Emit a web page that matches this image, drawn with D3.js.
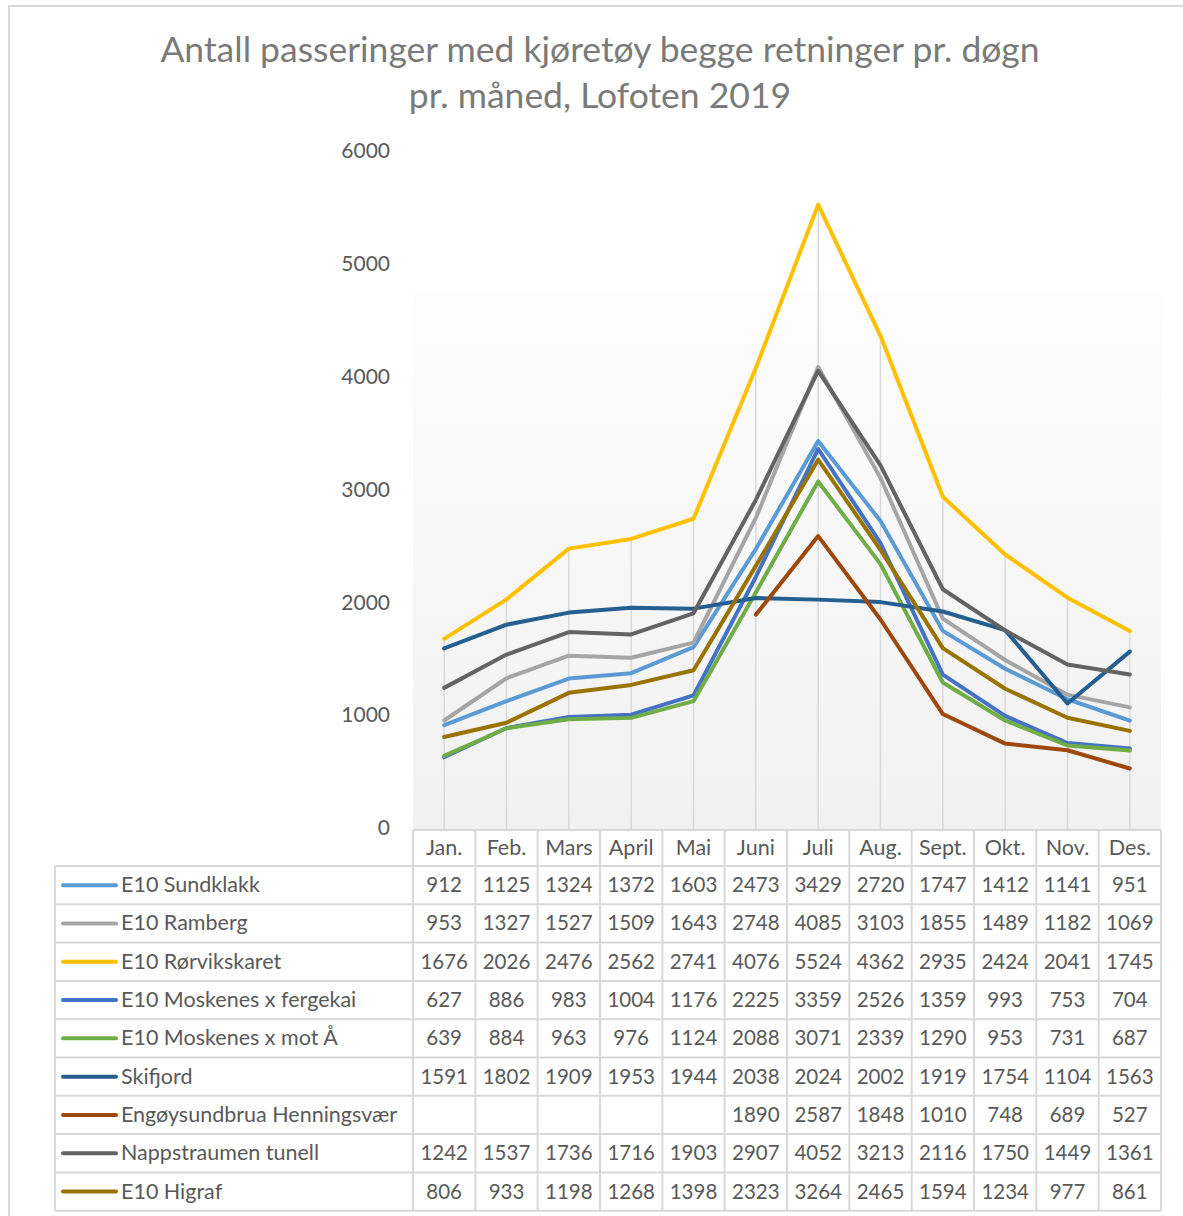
<!DOCTYPE html>
<html>
<head>
<meta charset="utf-8">
<script src="https://cdn.jsdelivr.net/npm/d3@7"></script>
<style>
  body { margin: 0; background: #fff; }
  svg text { font-family: Lato, "Open Sans", sans-serif; }
</style>
</head>
<body>
<div id="chart"></div>
<script>
// Data (pr. døgn, 2019)
const months = ["Jan.", "Feb.", "Mars", "April", "Mai", "Juni", "Juli", "Aug.", "Sept.", "Okt.", "Nov.", "Des."];
const seriesNames = ["E10 Sundklakk", "E10 Ramberg", "E10 Rørvikskaret", "E10 Moskenes x fergekai",
  "E10 Moskenes x mot Å", "Skifjord", "Engøysundbrua Henningsvær", "Nappstraumen tunell", "E10 Higraf"];
const sundklakk   = [912, 1125, 1324, 1372, 1603, 2473, 3429, 2720, 1747, 1412, 1141, 951];
const ramberg     = [953, 1327, 1527, 1509, 1643, 2748, 4085, 3103, 1855, 1489, 1182, 1069];
const rorvikskaret = [1676, 2026, 2476, 2562, 2741, 4076, 5524, 4362, 2935, 2424, 2041, 1745];
const moskenesFerge = [627, 886, 983, 1004, 1176, 2225, 3359, 2526, 1359, 993, 753, 704];
const moskenesMotA = [639, 884, 963, 976, 1124, 2088, 3071, 2339, 1290, 953, 731, 687];
const skifjord    = [1591, 1802, 1909, 1953, 1944, 2038, 2024, 2002, 1919, 1754, 1104, 1563];
const engoysund   = [null, null, null, null, null, 1890, 2587, 1848, 1010, 748, 689, 527];
const nappstraumen = [1242, 1537, 1736, 1716, 1903, 2907, 4052, 3213, 2116, 1750, 1449, 1361];
const higraf      = [806, 933, 1198, 1268, 1398, 2323, 3264, 2465, 1594, 1234, 977, 861];
const yTicks = [0, 1000, 2000, 3000, 4000, 5000, 6000];

const seriesValues = [sundklakk, ramberg, rorvikskaret, moskenesFerge, moskenesMotA,
  skifjord, engoysund, nappstraumen, higraf];
const colors = ["#5b9bd5", "#a5a5a5", "#ffc000", "#4472c4", "#70ad47",
  "#255e91", "#9e480e", "#636363", "#997300"];

const series = seriesNames.map((name, i) => ({name, values: seriesValues[i], color: colors[i]}));

const W = 1183, H = 1216;
const plot = {left: 413, right: 1161, top: 151, bottom: 829};
const table = {left: 55, headerTop: 830, headerH: 36, rowH: 38.3};
const gridColor = "#d9d9d9";
const textColor = "#595959";

const svg = d3.select("#chart").append("svg")
    .attr("width", W)
    .attr("height", H);

// outer chart border (right/bottom edges run off the picture)
svg.append("rect")
    .attr("x", 9).attr("y", 6)
    .attr("width", 1300).attr("height", 1300)
    .attr("fill", "none")
    .attr("stroke", gridColor)
    .attr("stroke-width", 2);

// Title
const title = svg.append("text")
    .attr("text-anchor", "middle")
    .attr("fill", "#7a7a7a")
    .style("font-size", "35.5px");
title.append("tspan").attr("x", 600).attr("y", 62).text("Antall passeringer med kjøretøy begge retninger pr. døgn");
title.append("tspan").attr("x", 600).attr("y", 108).text("pr. måned, Lofoten 2019");

// Scales
const x = d3.scaleBand()
    .domain(months)
    .range([plot.left, plot.right]);
const xc = d => x(d) + x.bandwidth() / 2;

const y = d3.scaleLinear()
    .domain([0, 6000])
    .range([plot.bottom - 1, plot.top]);

// plot area gradient
const defs = svg.append("defs");
const grad = defs.append("linearGradient")
    .attr("id", "plotFill")
    .attr("x1", 0).attr("y1", 0).attr("x2", 0).attr("y2", 1);
grad.append("stop").attr("offset", "0%").attr("stop-color", "#fdfdfd");
grad.append("stop").attr("offset", "100%").attr("stop-color", "#f1f1f1");

svg.append("rect")
    .attr("x", plot.left)
    .attr("y", 293)
    .attr("width", plot.right - plot.left)
    .attr("height", plot.bottom - 293)
    .attr("fill", "url(#plotFill)");

// y axis labels (no line)
const yAxisG = svg.append("g")
    .attr("transform", `translate(${plot.left},0)`)
    .call(d3.axisLeft(y).tickValues(yTicks).tickSize(0).tickPadding(23).tickFormat(d3.format("d")));
yAxisG.select(".domain").remove();
yAxisG.selectAll("text")
    .attr("fill", textColor)
    .style("font-size", "21px")
    .style("font-family", "Lato, sans-serif");

// drop lines from the highest value to the axis
svg.append("g").selectAll("line")
    .data(months)
  .join("line")
    .attr("x1", d => xc(d))
    .attr("x2", d => xc(d))
    .attr("y1", (d, i) => y(d3.max(series, s => s.values[i])))
    .attr("y2", plot.bottom)
    .attr("stroke", gridColor)
    .attr("stroke-width", 1.5);

// series lines
const line = d3.line()
    .defined(d => d.v != null)
    .x(d => xc(d.m))
    .y(d => y(d.v));

svg.append("g").selectAll("path")
    .data(series)
  .join("path")
    .attr("d", s => line(s.values.map((v, i) => ({m: months[i], v}))))
    .attr("fill", "none")
    .attr("stroke", s => s.color)
    .attr("stroke-width", 4)
    .attr("stroke-linejoin", "round")
    .attr("stroke-linecap", "round");

// Data table
const tableG = svg.append("g");
const rowsTop = table.headerTop + table.headerH;
const rowsBottom = rowsTop + table.rowH * series.length;

// horizontal grid lines
tableG.append("line")
    .attr("x1", plot.left).attr("x2", plot.right)
    .attr("y1", table.headerTop).attr("y2", table.headerTop);
d3.range(series.length + 1).forEach(i => {
  tableG.append("line")
      .attr("x1", table.left).attr("x2", plot.right)
      .attr("y1", rowsTop + i * table.rowH).attr("y2", rowsTop + i * table.rowH);
});
// vertical grid lines
tableG.append("line")
    .attr("x1", table.left).attr("x2", table.left)
    .attr("y1", rowsTop).attr("y2", rowsBottom);
x.domain().concat([null]).forEach(m => {
  const xx = m == null ? plot.right : x(m);
  tableG.append("line")
      .attr("x1", xx).attr("x2", xx)
      .attr("y1", table.headerTop).attr("y2", rowsBottom);
});
tableG.selectAll("line")
    .attr("stroke", gridColor)
    .attr("stroke-width", 2);

// month headers
tableG.selectAll(".month")
    .data(months)
  .join("text")
    .attr("class", "month")
    .attr("x", d => xc(d))
    .attr("y", table.headerTop + table.headerH / 2 + 7)
    .attr("text-anchor", "middle")
    .attr("fill", textColor)
    .style("font-size", "21.5px")
    .text(d => d);

// rows: legend key + values
const rows = tableG.selectAll(".row")
    .data(series)
  .join("g")
    .attr("class", "row")
    .attr("transform", (d, i) => `translate(0,${rowsTop + i * table.rowH + table.rowH / 2})`);

rows.append("line")
    .attr("x1", 63).attr("x2", 116)
    .attr("y1", 0).attr("y2", 0)
    .attr("stroke", d => d.color)
    .attr("stroke-width", 4)
    .attr("stroke-linecap", "round");

rows.append("text")
    .attr("x", 121)
    .attr("y", 7)
    .attr("fill", textColor)
    .style("font-size", "21.5px")
    .text(d => d.name);

rows.selectAll(".val")
    .data(d => d.values.map((v, i) => ({m: months[i], v})))
  .join("text")
    .attr("class", "val")
    .attr("x", d => xc(d.m))
    .attr("y", 7)
    .attr("text-anchor", "middle")
    .attr("fill", textColor)
    .style("font-size", "20.5px")
    .text(d => d.v == null ? "" : d.v);
</script>
</body>
</html>
